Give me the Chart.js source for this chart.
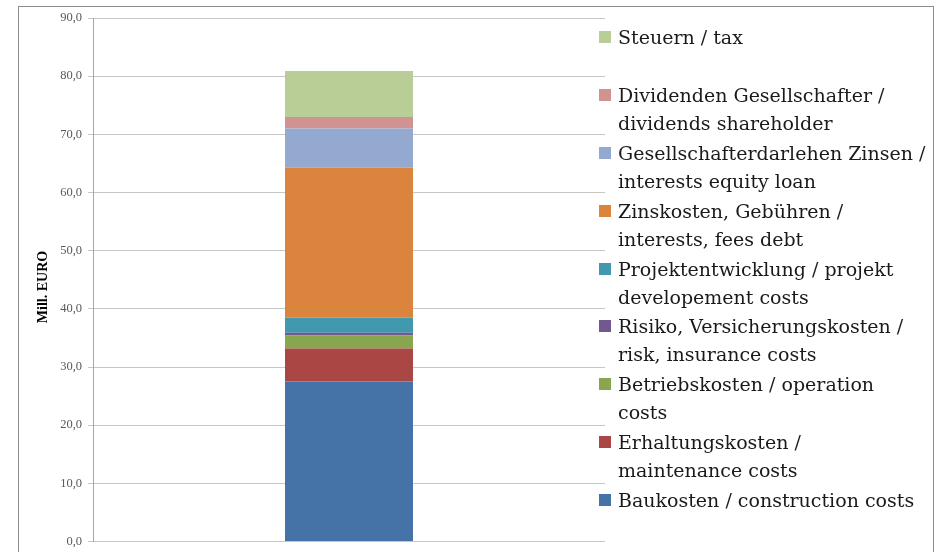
<!DOCTYPE html>
<html>
<head>
<meta charset="utf-8">
<script src="https://cdn.jsdelivr.net/npm/chart.js@4.4.1/dist/chart.umd.min.js"></script>
<style>
    html, body { margin: 0; padding: 0; background: #fff; overflow: hidden; }
    #wrap { position: relative; width: 936px; height: 552px; overflow: hidden; }
    #frame { position: absolute; left: 18px; top: 6px; width: 914px; height: 600px; border: 1px solid #8c8c8c; }
    #chart { position: absolute; left: 0; top: 0; }
    #legend { position: absolute; left: 599px; top: 23px; font-family: "DejaVu Serif", serif; font-size: 19px; color: #1a1a1a; }
    .item { position: relative; height: 57.9px; padding-left: 19px; line-height: 28px; white-space: nowrap; }
    .box { position: absolute; left: 0; top: 8px; width: 12px; height: 12px; }
</style>
</head>
<body>
<div id="wrap">
    <div id="frame"></div>
    <canvas id="chart" width="936" height="555"></canvas>
    <div id="legend"></div>
</div>
<script>
// Donnees (de bas en haut de la barre)
const categories = [""];
const seriesNames = [
    "Baukosten / construction costs",
    "Erhaltungskosten / maintenance costs",
    "Betriebskosten / operation costs",
    "Risiko, Versicherungskosten / risk, insurance costs",
    "Projektentwicklung / projekt developement costs",
    "Zinskosten, Gebühren / interests, fees debt",
    "Gesellschafterdarlehen Zinsen / interests equity loan",
    "Dividenden Gesellschafter / dividends shareholder",
    "Steuern / tax"
];
const legendLines = [
    ["Baukosten / construction costs"],
    ["Erhaltungskosten /", "maintenance costs"],
    ["Betriebskosten / operation", "costs"],
    ["Risiko, Versicherungskosten /", "risk, insurance costs"],
    ["Projektentwicklung / projekt", "developement costs"],
    ["Zinskosten, Gebühren /", "interests, fees debt"],
    ["Gesellschafterdarlehen Zinsen /", "interests equity loan"],
    ["Dividenden Gesellschafter /", "dividends shareholder"],
    ["Steuern / tax"]
];
const values = [27.5, 5.7, 2.2, 0.5, 2.6, 25.8, 6.7, 2.0, 7.9];
const colors = ["#4572A7", "#AA4643", "#89A54E", "#71588F", "#4198AF", "#DB843D", "#93A9CF", "#D19392", "#B9CD96"];
const yMin = 0, yMax = 90, yStep = 10;
const yTitle = "Mill. EURO";

const datasets = seriesNames.map(function (name, i) {
    return {
        label: name,
        data: [values[i]],
        backgroundColor: colors[i],
        borderWidth: 0,
        barPercentage: 0.25,
        categoryPercentage: 1
    };
});

// Titre de l'axe Y, centre un peu plus bas comme dans Excel
const yTitlePlugin = {
    id: "yTitle",
    afterDraw: function (chart) {
        const ctx = chart.ctx;
        ctx.save();
        ctx.translate(43, 287);
        ctx.rotate(-Math.PI / 2);
        ctx.font = "bold 14px 'Liberation Serif'";
        ctx.fillStyle = "#000";
        ctx.textAlign = "center";
        ctx.textBaseline = "middle";
        ctx.fillText(yTitle, 0, 0);
        ctx.restore();
    }
};

new Chart(document.getElementById("chart"), {
    type: "bar",
    data: { labels: categories, datasets: datasets },
    options: {
        responsive: false,
        animation: false,
        layout: { padding: { top: 18, right: 331, bottom: 0, left: 0 } },
        plugins: { legend: { display: false }, tooltip: { enabled: false } },
        scales: {
            x: { stacked: true, display: false },
            y: {
                stacked: true,
                min: yMin,
                max: yMax,
                ticks: {
                    stepSize: yStep,
                    padding: 6,
                    color: "#595959",
                    font: { family: "Liberation Serif", size: 12.5 },
                    callback: function (v) { return v.toFixed(1).replace(".", ","); }
                },
                grid: { color: "#c6c6c6", tickLength: 5 },
                border: { color: "#a6a6a6" },
                afterFit: function (scale) { scale.width = 93; }
            }
        }
    },
    plugins: [yTitlePlugin]
});

// Legende HTML (ordre inverse : Steuern en haut)
const legend = document.getElementById("legend");
for (let i = seriesNames.length - 1; i >= 0; i--) {
    const item = document.createElement("div");
    item.className = "item";
    const box = document.createElement("span");
    box.className = "box";
    box.style.background = colors[i];
    item.appendChild(box);
    legendLines[i].forEach(function (line) {
        const d = document.createElement("div");
        d.textContent = line;
        item.appendChild(d);
    });
    legend.appendChild(item);
}
</script>
</body>
</html>
